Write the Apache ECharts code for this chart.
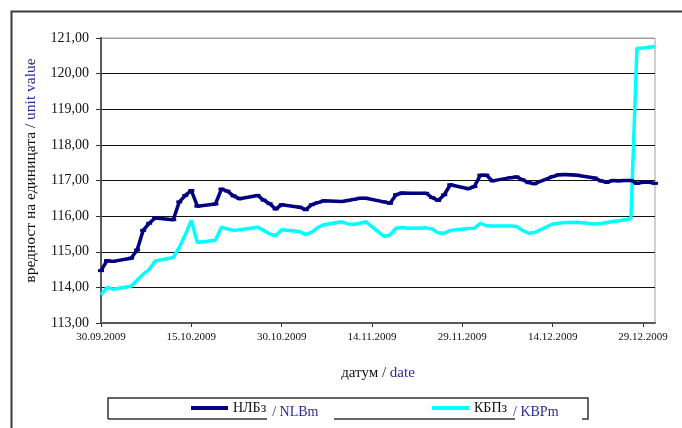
<!DOCTYPE html>
<html>
<head>
<meta charset="utf-8">
<script src="https://cdn.jsdelivr.net/npm/echarts@6/dist/echarts.min.js"></script>
<style>
html,body{margin:0;padding:0;background:#fff;}
#c{width:682px;height:428px;}
</style>
</head>
<body>
<div id="c"></div>
<script>
const dates = ['2009-09-30','2009-10-01','2009-10-02','2009-10-05','2009-10-06','2009-10-07','2009-10-08','2009-10-09','2009-10-12','2009-10-13','2009-10-14','2009-10-15','2009-10-16','2009-10-19','2009-10-20','2009-10-21','2009-10-22','2009-10-23','2009-10-26','2009-10-27','2009-10-28','2009-10-29','2009-10-30',
'2009-11-02','2009-11-03','2009-11-04','2009-11-05','2009-11-06','2009-11-09','2009-11-10','2009-11-11','2009-11-12','2009-11-13','2009-11-16','2009-11-17','2009-11-18','2009-11-19','2009-11-20','2009-11-23','2009-11-24','2009-11-25','2009-11-26','2009-11-27','2009-11-30',
'2009-12-01','2009-12-02','2009-12-03','2009-12-04','2009-12-07','2009-12-08','2009-12-09','2009-12-10','2009-12-11','2009-12-14','2009-12-15','2009-12-16','2009-12-17','2009-12-18','2009-12-21','2009-12-22','2009-12-23','2009-12-24','2009-12-25','2009-12-26','2009-12-27','2009-12-28','2009-12-29','2009-12-30','2009-12-31'];

const nlb = [114.47,114.75,114.73,114.82,115.05,115.6,115.8,115.95,115.9,116.4,116.58,116.72,116.28,116.34,116.76,116.7,116.57,116.49,116.58,116.45,116.35,116.2,116.32,
116.25,116.18,116.32,116.38,116.43,116.41,116.44,116.47,116.5,116.5,116.4,116.36,116.6,116.65,116.64,116.64,116.52,116.44,116.6,116.88,116.77,
116.83,117.15,117.15,116.99,117.08,117.1,117.02,116.94,116.91,117.11,117.16,117.17,117.16,117.15,117.07,116.99,116.95,117.0,116.99,117.0,117.0,116.92,116.95,116.95,116.92];

const kbp = [113.79,114.0,113.95,114.03,114.2,114.37,114.5,114.74,114.84,115.12,115.48,115.88,115.26,115.32,115.69,115.64,115.6,115.62,115.69,115.6,115.5,115.45,115.62,
115.57,115.48,115.55,115.68,115.76,115.84,115.78,115.77,115.8,115.84,115.43,115.47,115.66,115.68,115.66,115.67,115.64,115.53,115.52,115.6,115.65,
115.66,115.8,115.73,115.72,115.72,115.71,115.6,115.52,115.54,115.78,115.8,115.82,115.82,115.83,115.78,115.79,115.82,115.85,115.87,115.9,115.93,120.71,120.72,120.74,120.76];

const seriesNames = ['НЛБз','КБПз'];
const seriesLatin = ['NLBm','KBPm'];
const xTickLabels = ['30.09.2009','15.10.2009','30.10.2009','14.11.2009','29.11.2009','14.12.2009','29.12.2009'];
const yTickLabels = ['113,00','114,00','115,00','116,00','117,00','118,00','119,00','120,00','121,00'];

const startDate = dates[0];
function dayOffset(s){
  const p = s.split('-').map(Number), q = startDate.split('-').map(Number);
  return Math.round((Date.UTC(p[0],p[1]-1,p[2]) - Date.UTC(q[0],q[1]-1,q[2]))/86400000);
}
const endDay = dayOffset('2009-12-31');

const serif = 'Liberation Serif';
const blue = '#2a2a9c';

const chart = echarts.init(document.getElementById('c'), null, {renderer:'canvas'});
const richLegend = {
  a:{fontFamily:serif,fontSize:14,color:'#111'},
  b:{fontFamily:serif,fontSize:14,color:blue,padding:[9,0,0,6]}
};
const richName = {a:{fontFamily:serif,fontSize:15,color:'#111'},b:{fontFamily:serif,fontSize:15,color:blue}};
const richNameY = {a:{fontFamily:serif,fontSize:15.5,color:'#111'},b:{fontFamily:serif,fontSize:15.5,color:blue}};
chart.setOption({
  animation:false,
  backgroundColor:'#fff',
  grid:{left:101,top:38,right:27,bottom:105,show:true,borderColor:'#a0a0a0',borderWidth:1},
  xAxis:{
    type:'value',min:0,max:endDay,interval:15,
    name:'{a|датум / }{b|date}',nameLocation:'middle',nameGap:43,
    nameTextStyle:{rich:richName},
    axisLine:{lineStyle:{color:'#5a5a5a',width:2}},
    axisTick:{show:true,length:4,lineStyle:{color:'#333'}},
    axisLabel:{fontFamily:serif,fontSize:11,color:'#111',margin:9,
      formatter:v=>xTickLabels[Math.round(v/15)]||''},
    splitLine:{show:false}
  },
  yAxis:{
    type:'value',min:113,max:121,interval:1,
    name:'{a|вредност на единицата / }{b|unit value}',nameLocation:'middle',nameGap:62,nameRotate:90,
    nameTextStyle:{padding:[0,0,0,20],rich:richNameY},
    axisLine:{show:true,lineStyle:{color:'#5a5a5a',width:2}},
    axisTick:{show:true,length:5,lineStyle:{color:'#333'}},
    axisLabel:{fontFamily:serif,fontSize:14,color:'#111',margin:12,
      formatter:v=>yTickLabels[Math.round(v-113)]},
    splitLine:{show:true,lineStyle:{color:['#000','#111','#111','#111','#111','#111','#111','#111','#a0a0a0'],width:1}}
  },
  legend:[
    {data:[seriesNames[0]],left:191,top:401,padding:0,itemWidth:37,itemHeight:4,icon:'rect',itemGap:0,
     formatter:n=>'{a|'+n+'}{b|/ '+seriesLatin[0]+'}',textStyle:{rich:richLegend}},
    {data:[seriesNames[1]],left:432,top:401,padding:0,itemWidth:37,itemHeight:4,icon:'rect',itemGap:0,
     formatter:n=>'{a|'+n+'}{b|/ '+seriesLatin[1]+'}',textStyle:{rich:richLegend}}
  ],
  graphic:[
    {type:'rect',left:9,top:9,shape:{width:700,height:450},style:{fill:'none',stroke:'#3a3a3a',lineWidth:2},z:-1,silent:true},
    {type:'polyline',shape:{points:[[108,419],[108,398],[588,398],[588,419],[582,419]]},style:{fill:'none',stroke:'#333',lineWidth:1.5},silent:true},
    {type:'line',shape:{x1:108,y1:419,x2:267,y2:419},style:{stroke:'#333',lineWidth:1.5},silent:true},
    {type:'line',shape:{x1:334,y1:419,x2:515,y2:419},style:{stroke:'#333',lineWidth:1.5},silent:true}
  ],
  series:[
    {name:seriesNames[0],type:'line',data:dates.map((d,i)=>[dayOffset(d),nlb[i]]),
     color:'#000080',lineStyle:{width:3.5,color:'#000080'},symbol:'rect',symbolSize:[6,3],showSymbol:true,
     itemStyle:{color:'#000080'},z:3},
    {name:seriesNames[1],type:'line',data:dates.map((d,i)=>[dayOffset(d),kbp[i]]),
     color:'#00ffff',lineStyle:{width:3.5,color:'#00ffff'},showSymbol:false,symbol:'none',
     itemStyle:{color:'#00ffff'},z:2}
  ]
});
</script>
</body>
</html>
